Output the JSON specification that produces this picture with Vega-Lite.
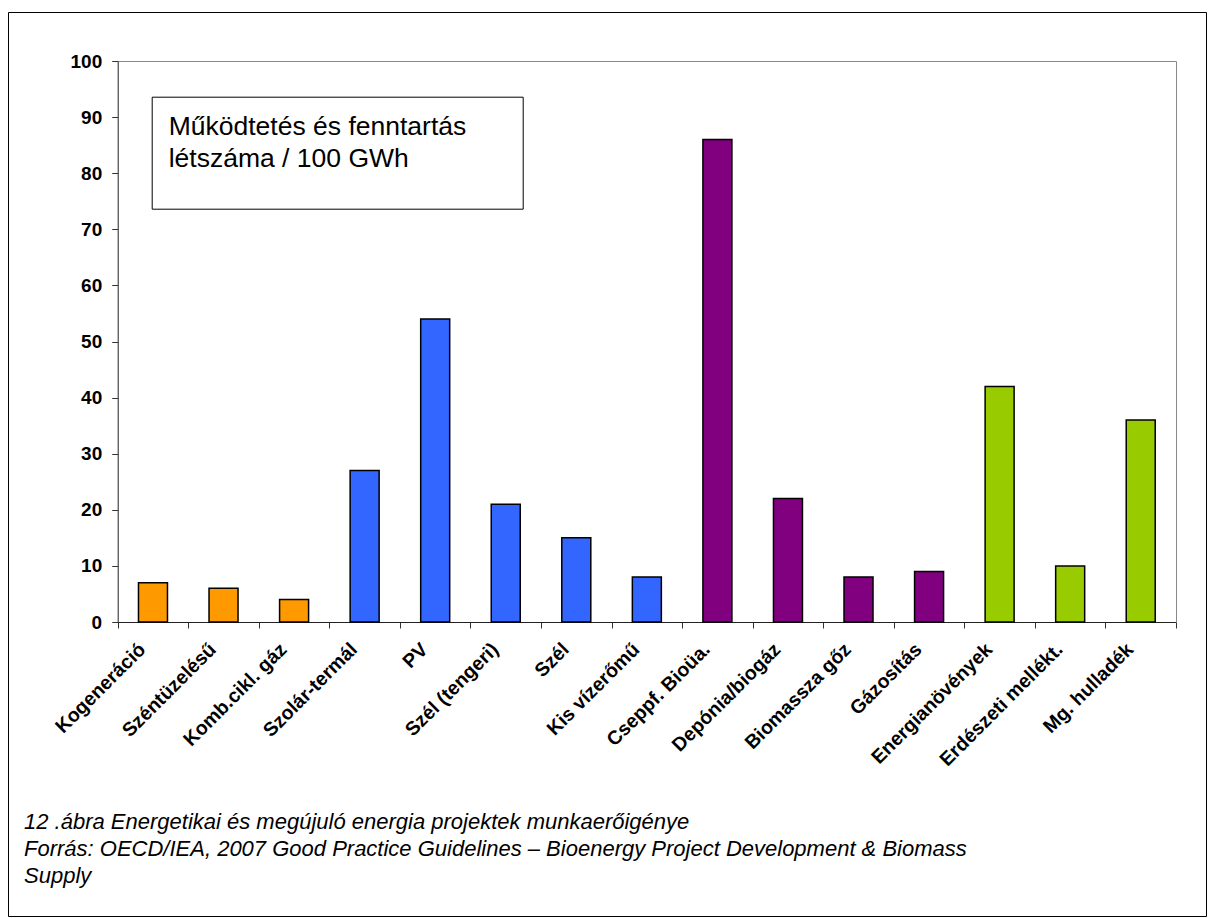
{
  "$schema": "https://vega.github.io/schema/vega-lite/v6.json",
  "width": 1198,
  "height": 904,
  "autosize": {"type": "none"},
  "padding": {"left": 8, "top": 12, "right": 2, "bottom": 2},
  "background": "#ffffff",
  "config": {
    "font": "Liberation Sans",
    "view": {"stroke": "#000000", "strokeWidth": 1}
  },
  "title": {
    "text": [
      "12 .ábra Energetikai és megújuló energia projektek munkaerőigénye",
      "Forrás: OECD/IEA, 2007 Good Practice Guidelines – Bioenergy Project Development & Biomass",
      "Supply"
    ],
    "orient": "bottom",
    "anchor": "start",
    "frame": "group",
    "offset": 0,
    "dx": 16,
    "dy": -104,
    "baseline": "top",
    "font": "Liberation Sans",
    "fontSize": 22,
    "fontStyle": "italic",
    "fontWeight": "normal",
    "color": "#000000",
    "lineHeight": 27
  },
  "data": {
    "values": [
      {"cat": "Kogeneráció", "value": 7, "grp": "Hagyományos"},
      {"cat": "Széntüzelésű", "value": 6, "grp": "Hagyományos"},
      {"cat": "Komb.cikl. gáz", "value": 4, "grp": "Hagyományos"},
      {"cat": "Szolár-termál", "value": 27, "grp": "Megújuló"},
      {"cat": "PV", "value": 54, "grp": "Megújuló"},
      {"cat": "Szél (tengeri)", "value": 21, "grp": "Megújuló"},
      {"cat": "Szél", "value": 15, "grp": "Megújuló"},
      {"cat": "Kis vízerőmű", "value": 8, "grp": "Megújuló"},
      {"cat": "Cseppf. Bioüa.", "value": 86, "grp": "Bioenergia"},
      {"cat": "Depónia/biogáz", "value": 22, "grp": "Bioenergia"},
      {"cat": "Biomassza gőz", "value": 8, "grp": "Bioenergia"},
      {"cat": "Gázosítás", "value": 9, "grp": "Bioenergia"},
      {"cat": "Energianövények", "value": 42, "grp": "Alapanyag"},
      {"cat": "Erdészeti mellékt.", "value": 10, "grp": "Alapanyag"},
      {"cat": "Mg. hulladék", "value": 36, "grp": "Alapanyag"}
    ]
  },
  "layer": [
    {
      "mark": {"type": "bar", "width": {"band": 0.411}, "stroke": "#000000", "strokeWidth": 1.5},
      "encoding": {
        "x": {
          "field": "cat",
          "type": "nominal",
          "sort": null,
          "scale": {"range": [109.7, 1168], "paddingInner": 0, "paddingOuter": 0},
          "axis": {
            "orient": "bottom",
            "offset": -294,
            "title": null,
            "tickBand": "extent",
            "tickSize": 6,
            "tickColor": "#333333",
            "domainColor": "#222222",
            "labelAngle": -45,
            "labelAlign": "right",
            "labelBaseline": "middle",
            "labelPadding": 18,
            "labelOffset": -11,
            "labelFont": "Liberation Sans",
            "labelFontSize": 19.5,
            "labelFontWeight": "bold",
            "labelColor": "#000000",
            "labelLimit": 400
          }
        },
        "y": {
          "field": "value",
          "type": "quantitative",
          "scale": {"domain": [0, 100], "range": [610, 49], "nice": false},
          "axis": {
            "orient": "left",
            "offset": -109.7,
            "title": null,
            "values": [0, 10, 20, 30, 40, 50, 60, 70, 80, 90, 100],
            "grid": false,
            "tickSize": 6,
            "tickColor": "#333333",
            "domainColor": "#222222",
            "labelPadding": 10,
            "labelFont": "Liberation Sans",
            "labelFontSize": 19,
            "labelFontWeight": "bold",
            "labelColor": "#000000"
          }
        },
        "color": {
          "field": "grp",
          "type": "nominal",
          "scale": {
            "domain": ["Hagyományos", "Megújuló", "Bioenergia", "Alapanyag"],
            "range": ["#FF9900", "#3366FF", "#800080", "#99CC00"]
          },
          "legend": null
        }
      }
    },
    {
      "mark": {"type": "point", "opacity": 0},
      "encoding": {
        "x": {
          "field": "value",
          "type": "quantitative",
          "scale": {"domain": [0, 100], "range": [109.7, 1168], "nice": false},
          "axis": {
            "orient": "top",
            "offset": -49,
            "title": null,
            "ticks": false,
            "labels": false,
            "grid": false,
            "domainColor": "#888888"
          }
        },
        "y": {
          "field": "value",
          "type": "quantitative",
          "scale": {"domain": [0, 100], "range": [610, 49], "nice": false},
          "axis": {
            "orient": "right",
            "offset": -30,
            "title": null,
            "ticks": false,
            "labels": false,
            "grid": false,
            "domainColor": "#888888"
          }
        },
        "stroke": {
          "field": "value",
          "type": "quantitative",
          "scale": {"range": ["#ffffff", "#ffffff"]},
          "legend": {
            "orient": "none",
            "legendX": 143.7,
            "legendY": 84.7,
            "direction": "horizontal",
            "gradientLength": 337,
            "gradientThickness": 2,
            "gradientOpacity": 0,
            "gradientStrokeWidth": 0,
            "labelOpacity": 0,
            "labelFontSize": 6,
            "title": ["Működtetés és fenntartás", "létszáma / 100 GWh"],
            "titleFont": "Liberation Sans",
            "titleFontSize": 26.5,
            "titleFontWeight": "normal",
            "titleColor": "#000000",
            "titleLineHeight": 32,
            "titleLimit": 1000,
            "titlePadding": 9,
            "titleAnchor": "start",
            "strokeColor": "#000000",
            "fillColor": "#ffffff",
            "padding": 17
          }
        }
      }
    }
  ],
  "resolve": {
    "scale": {"x": "independent", "y": "independent"},
    "axis": {"x": "independent", "y": "independent"}
  }
}
